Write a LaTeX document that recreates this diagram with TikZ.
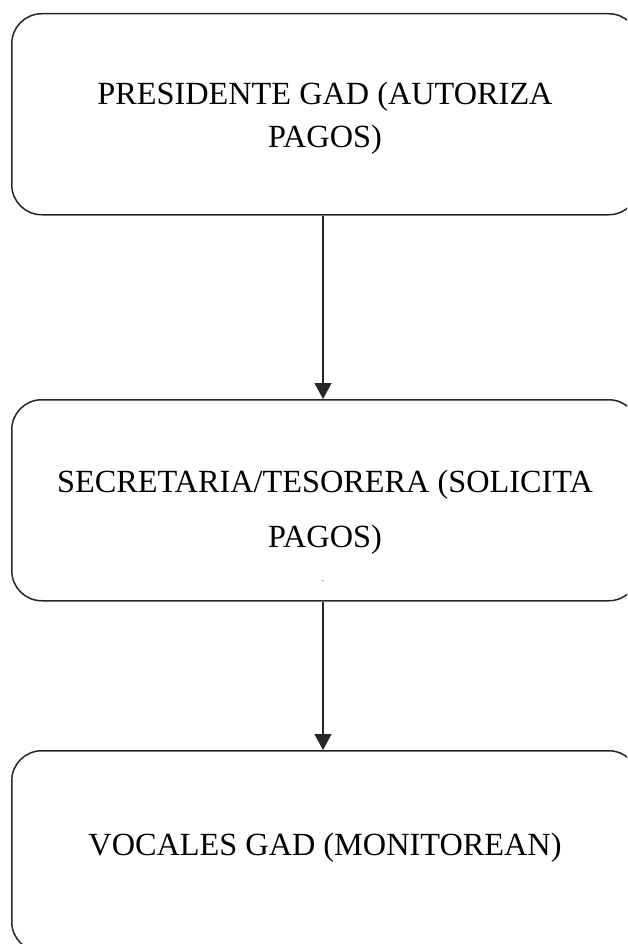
\documentclass[tikz,border=0pt]{standalone}
\usepackage{fontspec}
\setmainfont{Liberation Serif}
\usetikzlibrary{arrows.meta}
\begin{document}
\begin{tikzpicture}[x=1pt,y=1pt,
  stage/.style={draw=black!85,line width=1.5pt,rounded corners=30pt,
    minimum width=627pt,minimum height=201pt,inner sep=0pt,anchor=north west},
  label/.style={font=\fontsize{32.3}{34}\selectfont,anchor=base,inner sep=0pt},
  flow/.style={draw=black!85,line width=1.5pt,-{Triangle[width=17pt,length=16pt]}}]
  \useasboundingbox (0,0) rectangle (627,-944);
  \clip (0,0) rectangle (627,-944);
  % the three stages of the payment chain
  \node[stage] (pres) at (11,-13) {};
  \node[stage] (sec) at (11,-399) {};
  \node[stage] (voc) at (11,-750) {};
  % captions
  \node[label] (pres1) at (325,-105) {PRESIDENTE GAD (AUTORIZA};
  \node[label] (pres2) at (325,-148) {PAGOS)};
  \node[label] (sec1) at (325,-492) {SECRETARIA/TESORERA (SOLICITA};
  \node[label] (sec2) at (325,-547) {PAGOS)};
  \node[font=\fontsize{9}{9}\selectfont,inner sep=0pt,anchor=base] (dot) at (323,-581) {.};
  \node[label] (voc1) at (325,-855) {VOCALES GAD (MONITOREAN)};
  % connectors
  \coordinate (a1) at (323,-214);
  \coordinate (a2) at (323,-399);
  \coordinate (b1) at (323,-600);
  \coordinate (b2) at (323,-750);
  \draw[flow] (pres.south -| a1) -- (sec.north -| a2);
  \draw[flow] (sec.south -| b1) -- (voc.north -| b2);
\end{tikzpicture}
\end{document}
